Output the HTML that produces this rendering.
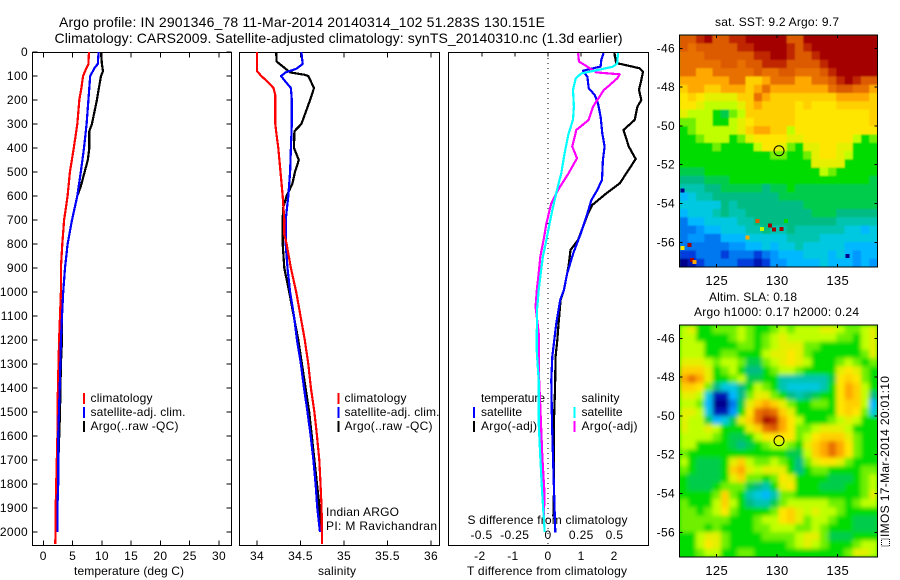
<!DOCTYPE html>
<html lang="en">
<head>
<meta charset="utf-8">
<title>Argo profile chart</title>
<style>
html,body{margin:0;padding:0;background:#fff;}
svg{display:block;font-family:"Liberation Sans",sans-serif;font-size:12px;fill:#000;}
text{fill:#000;}
</style>
</head>
<body>
<svg id="chart" width="900" height="580" viewBox="0 0 900 580" xmlns="http://www.w3.org/2000/svg">
<defs>
<filter id="soft-sst" x="0" y="0" width="100%" height="100%"><feGaussianBlur stdDeviation="0.9"/></filter>
<filter id="soft-sla" x="0" y="0" width="100%" height="100%"><feGaussianBlur stdDeviation="2.2"/></filter>
<clipPath id="clip-sst"><rect x="679.5" y="35" width="198" height="232"/></clipPath>
<clipPath id="clip-sla"><rect x="679.5" y="325" width="198" height="232"/></clipPath>
</defs>
<text x="59" y="27" font-size="14" textLength="486">Argo profile: IN 2901346_78 11-Mar-2014 20140314_102 51.283S 130.151E</text>
<text x="54.5" y="43" font-size="14" textLength="568">Climatology: CARS2009. Satellite-adjusted climatology: synTS_20140310.nc (1.3d earlier)</text>

<text x="74" y="575" textLength="110">temperature (deg C)</text>
<text x="318" y="575" textLength="38">salinity</text>
<text x="467" y="575" textLength="160">T difference from climatology</text>
<text x="467.5" y="524" textLength="160">S difference from climatology</text>

<g>
<text x="90.5" y="402" textLength="62">climatology</text>
<text x="90.5" y="416" textLength="95">satellite-adj. clim.</text>
<text x="90.5" y="430" textLength="88">Argo(..raw -QC)</text>
</g>
<g>
<text x="344.5" y="402" textLength="62">climatology</text>
<text x="344.5" y="416" textLength="95">satellite-adj. clim.</text>
<text x="344.5" y="430" textLength="88">Argo(..raw -QC)</text>
</g>
<g>
<text x="481" y="402" textLength="64">temperature</text>
<text x="481" y="416" textLength="41">satellite</text>
<text x="481" y="430" textLength="56">Argo(-adj)</text>
<text x="581.5" y="402" textLength="38">salinity</text>
<text x="581.5" y="416" textLength="41">satellite</text>
<text x="581.5" y="430" textLength="56">Argo(-adj)</text>
</g>
<text x="326" y="516" textLength="73">Indian ARGO</text>
<text x="326" y="530" textLength="111">PI: M Ravichandran</text>

<text x="715" y="26" textLength="124">sat. SST: 9.2  Argo: 9.7</text>
<text x="709" y="301" textLength="88">Altim. SLA: 0.18</text>
<text x="694" y="316" textLength="165">Argo h1000: 0.17 h2000: 0.24</text>
<text x="0" y="0" transform="translate(889,537) rotate(-90)" textLength="161">IMOS 17-Mar-2014 20:01:10</text>
<rect x="881.5" y="539" width="8" height="7" fill="none" stroke="#000" stroke-width="1" stroke-dasharray="1 1"/>
</svg>

<script>
/* ---------- axis ticks ---------- */
const depthTicks = [0,100,200,300,400,500,600,700,800,900,1000,1100,1200,1300,1400,1500,1600,1700,1800,1900,2000];
const tempTicks = [0,5,10,15,20,25,30];
const salTicks = [34,34.5,35,35.5,36];
const salTickLabels = ['34','34.5','35','35.5','36'];
const tDiffTicks = [-2,-1,0,1,2];
const tDiffTickLabels = ['-2','-1','0','1','2'];
const sDiffTicks = [-0.5,-0.25,0,0.25,0.5];
const sDiffTickLabels = ['-0.5','-0.25','0','0.25','0.5'];
const lonTicks = [125,130,135];
const latTicks = [-46,-48,-50,-52,-54,-56];

/* ---------- temperature profiles (deg C) ---------- */
const tempClimDepth = [0,50,70,100,150,200,300,400,500,600,700,800,900,1000,1100,1200,1400,1600,1700,1850,2050];
const tempClimValues = [7.8,7.7,7.3,6.8,6.5,6.15,5.8,5.2,4.55,4.15,3.55,3.25,3.0,3.0,2.85,2.7,2.5,2.4,2.3,2.15,2.05];
const tempSatDepth = [0,50,65,100,150,200,300,400,500,600,700,800,900,1000,1100,1200,1400,1600,1800,1900,2000];
const tempSatValues = [9.45,9.3,8.8,8.0,7.85,7.7,7.4,6.95,6.4,5.8,4.9,4.15,3.7,3.4,3.2,3.0,2.8,2.55,2.55,2.4,2.4];
const tempArgoDepth = [0,50,80,100,150,200,300,330,400,450,500,560,600,700,800,900,1000,1100,1200,1300,1500,1900];
const tempArgoValues = [9.85,10,10.2,9.85,9.5,9.15,8.3,7.85,7.85,7.6,7.05,6.4,5.8,4.9,4.15,3.7,3.4,3.2,3.2,3.0,2.85,2.3];

/* ---------- salinity profiles ---------- */
const salClimDepth = [0,80,100,120,150,180,200,300,350,400,450,500,600,700,760,800,900,1000,1100,1200,1300,1400,1500,1600,1700,1800,1900,2050];
const salClimValues = [34,34,34.05,34.11,34.19,34.21,34.21,34.21,34.226,34.245,34.257,34.27,34.295,34.314,34.314,34.34,34.39,34.45,34.5,34.55,34.59,34.62,34.66,34.69,34.716,34.73,34.743,34.747];
const salSatDepth = [0,50,70,85,100,120,150,200,300,400,500,600,700,800,900,1000,1100,1200,1300,1400,1500,1600,1700,1800,1900,2000];
const salSatValues = [34.51,34.525,34.45,34.33,34.276,34.32,34.39,34.4,34.4,34.39,34.38,34.36,34.33,34.33,34.35,34.38,34.425,34.46,34.505,34.54,34.58,34.617,34.648,34.674,34.693,34.724];
const salArgoDepth = [0,40,60,85,95,100,150,200,300,330,400,450,500,550,600,650,700,800,900,1000,1200,1500,1900,2000];
const salArgoValues = [34.22,34.226,34.295,34.38,34.55,34.59,34.655,34.61,34.51,34.43,34.425,34.48,34.437,34.406,34.34,34.3,34.295,34.295,34.314,34.37,34.475,34.6,34.72,34.735];

/* ---------- differences from climatology ---------- */
const tDiffSatDepth = [5,33,61,78,89,103,151,179,214,269,339,394,450,533,575,617,686,756,839,922,992,1033,1130,1269,1367,1547,1686,1825,2003];
const tDiffSatValues = [1.68,1.61,1.59,1.06,1.11,1.19,1.23,1.41,1.51,1.59,1.64,1.71,1.66,1.63,1.49,1.31,1.16,0.99,0.76,0.58,0.48,0.37,0.25,0.13,0.1,0.12,0.15,0.18,0.22];
const tDiffArgoDepth = [5,47,50,68,82,117,158,200,228,283,325,394,446,505,547,589,637,672,783,825,894,992,1033,1130,1200,1269,1408,1533,1825,1936];
const tDiffArgoValues = [2.01,2.06,2.2,2.77,2.87,2.82,2.75,2.82,2.7,2.62,2.28,2.44,2.65,2.37,2.17,1.76,1.34,1.21,0.91,0.68,0.62,0.48,0.38,0.32,0.28,0.23,0.21,0.18,0.18,0.16];
const sDiffSatDepth = [5,47,61,75,89,110,158,228,283,339,422,505,575,644,714,783,853,922,992,1075,1242,1367,1547,1686,1825,2000];
const sDiffSatValues = [0.526,0.52,0.49,0.376,0.25,0.208,0.188,0.195,0.188,0.155,0.125,0.1,0.068,0.038,0.012,-0.012,-0.038,-0.055,-0.07,-0.083,-0.085,-0.07,-0.07,-0.058,-0.045,-0.025];
const sDiffArgoDepth = [5,40,54,68,85,93,110,144,158,228,283,325,394,443,505,575,630,714,783,853,922,985,1061,1172,1353,1478,1686,1825,1964];
const sDiffArgoValues = [0.226,0.233,0.276,0.313,0.363,0.539,0.52,0.45,0.42,0.338,0.306,0.213,0.183,0.218,0.155,0.075,0.025,-0.012,-0.033,-0.058,-0.07,-0.083,-0.093,-0.07,-0.068,-0.058,-0.043,-0.028,-0.03];

/* ---------- map grids: colour-level values 0 (low) .. 20 (high), north to south ---------- */
const sstGrid = [
[18,18,19,20,18,18,19,19,20,20,20,20,20,18,18,20,20,20,20,20,20,20,20,20],
[18,17,18,18,18,18,18,19,19,20,20,20,20,19,18,19,20,20,20,20,20,20,20,20],
[17,17,17,18,18,18,18,18,18,19,19,20,20,19,18,18,19,20,20,20,20,20,20,20],
[17,17,17,17,17,18,18,17,18,18,19,19,19,18,18,18,18,19,20,20,20,20,20,20],
[17,17,16,16,17,17,17,17,17,18,17,17,18,18,17,17,17,18,19,20,20,20,20,20],
[16,16,16,16,16,16,17,17,15,15,16,17,17,17,16,16,17,17,18,19,20,19,18,18],
[15,16,16,15,15,16,16,16,15,16,17,16,16,16,16,16,16,16,17,18,18,17,17,16],
[14,15,14,13,13,13,13,15,15,17,16,15,15,15,15,15,15,15,15,16,16,16,16,15],
[14,14,13,12,12,12,12,13,15,16,15,15,15,15,14,15,14,14,14,15,15,15,15,15],
[13,12,12,12,10,9,11,12,15,15,15,15,15,15,14,14,14,14,14,14,14,14,14,15],
[11,11,12,12,10,10,12,13,14,15,15,15,15,15,14,14,14,14,14,14,14,14,14,15],
[10,11,12,12,12,12,12,13,15,16,16,15,15,12,14,14,14,14,14,14,14,14,14,14],
[10,10,11,12,12,12,10,11,13,14,14,14,14,13,13,14,14,14,14,14,14,12,10,11],
[10,10,10,10,11,10,10,10,10,12,14,14,13,11,10,13,13,14,14,13,13,10,10,10],
[10,10,10,10,10,10,10,10,10,10,10,11,11,10,10,11,13,14,14,13,12,10,10,10],
[10,10,10,10,10,10,10,10,10,10,10,10,10,10,10,10,13,13,13,13,10,10,10,10],
[9,9,9,10,10,10,10,10,10,10,10,10,10,10,10,10,10,12,11,10,10,10,10,10],
[8,8,8,9,9,9,10,10,10,10,10,10,10,10,10,10,10,10,10,10,10,10,10,9],
[7,7,7,8,8,9,9,9,9,9,8,9,9,10,9,9,9,9,9,9,9,9,9,9],
[5,6,7,7,8,8,8,8,8,8,8,8,9,9,9,9,9,9,9,9,9,9,9,9],
[6,6,6,6,6,8,7,8,8,8,8,8,8,8,8,9,9,9,9,9,9,9,9,9],
[5,6,6,6,7,8,7,7,8,8,8,8,8,8,8,8,9,9,9,8,8,8,8,8],
[3,5,5,6,6,6,6,7,7,8,8,8,8,8,8,8,8,8,8,7,7,7,7,7],
[3,3,4,5,5,6,6,6,7,7,8,7,7,8,7,7,7,7,7,7,6,6,5,6],
[3,4,4,3,3,5,5,5,6,6,6,6,6,7,7,7,7,6,6,6,6,6,6,6],
[3,3,3,3,3,3,4,4,5,5,6,5,6,6,7,6,6,6,6,6,5,5,5,5],
[2,2,3,3,3,2,3,3,3,2,3,4,5,5,5,6,6,6,5,6,5,4,5,5],
[0,1,2,3,3,3,3,2,2,1,2,4,4,5,5,5,5,6,5,5,5,4,5,4]
];
const sstOutlierLon = [129.41,129.74,130.34,128.36,127.53,122.74,122.19,122.96,123.15,122.16,130.73,128.75,135.8];
const sstOutlierLat = [-55.13,-55.34,-55.32,-54.91,-55.75,-56.13,-56.3,-56.92,-57.02,-53.33,-54.91,-55.32,-56.71];
const sstOutlierLevel = [20,20,20,18,16,20,14,20,16,0,10,12,0];
const slaGrid = [
[12,13,10,10,11,11,11,12,11,10,10,11,12,11,12,12,12,13,13,12,11,11,12,13],
[12,12,10,10,10,10,11,12,11,10,11,12,13,12,12,12,12,12,12,11,11,10,12,13],
[12,12,12,10,10,10,10,11,11,10,11,12,13,13,13,11,11,10,10,10,10,10,12,13],
[12,12,12,10,10,11,11,10,10,10,12,13,13,14,13,11,10,10,10,10,10,10,11,13],
[13,13,13,12,11,12,12,11,9,9,11,12,13,14,13,12,10,10,10,11,12,11,10,11],
[15,15,15,13,10,11,12,10,8,8,10,11,12,12,11,10,10,10,10,13,14,13,11,10],
[16,17,16,13,10,10,11,12,9,9,10,10,7,7,7,7,7,7,9,14,15,14,11,10],
[15,15,14,11,8,6,6,8,10,12,11,10,7,6,6,6,6,7,10,14,16,15,12,10],
[13,13,12,6,1,1,5,8,11,13,13,11,10,8,7,8,9,10,10,14,16,15,12,8],
[12,12,11,5,0,0,3,9,13,15,16,15,13,11,10,10,11,11,10,14,15,15,12,5],
[13,13,12,6,1,1,4,10,14,17,18,17,15,13,10,10,10,10,10,14,15,14,11,6],
[13,12,12,9,5,6,9,13,15,17,20,19,16,14,12,10,10,10,11,12,13,12,10,10],
[13,12,12,13,12,10,10,10,13,15,17,18,16,14,11,11,12,13,13,13,12,10,10,10],
[12,12,12,12,11,10,9,9,10,12,14,14,14,14,11,12,14,15,15,15,13,11,10,10],
[12,12,10,10,10,10,9,8,9,10,11,12,12,11,10,13,15,16,17,16,14,11,10,10],
[11,10,10,10,10,10,10,10,10,10,10,10,10,9,9,12,15,16,17,16,14,11,10,10],
[12,10,9,9,9,10,13,15,12,11,11,12,11,10,8,11,13,14,14,13,11,10,10,10],
[11,10,9,9,9,10,15,16,13,12,13,13,13,10,8,10,11,11,10,10,10,10,11,11],
[10,9,9,9,9,10,13,15,11,11,10,11,14,13,10,10,10,10,9,9,9,10,11,12],
[10,9,9,9,10,11,11,11,9,8,7,10,13,14,10,10,10,9,9,9,10,10,11,12],
[10,10,10,10,11,15,11,10,7,6,5,7,11,11,10,10,10,10,10,10,10,10,11,13],
[11,10,10,10,12,15,12,10,8,7,7,9,11,12,12,12,12,12,11,11,10,11,12,12],
[11,11,10,11,12,14,11,10,10,10,10,11,14,15,13,12,13,12,12,11,10,10,10,10],
[11,11,11,11,11,11,10,10,10,11,12,12,14,15,13,11,12,12,11,10,10,9,9,9],
[11,11,11,10,11,10,10,10,10,11,11,12,12,12,11,11,12,11,10,10,10,9,9,9],
[10,10,12,13,13,11,10,10,10,10,11,11,11,11,12,13,13,11,9,9,9,10,10,10],
[10,10,12,14,13,11,10,10,10,10,10,10,10,11,12,13,12,11,10,10,10,11,12,12],
[10,10,11,12,12,10,10,11,11,10,10,10,10,10,10,10,10,10,10,10,11,13,13,12]
];
const profileLon = [130.151];
const profileLat = [-51.283];

/* ---------- drawing ---------- */
const svg = document.getElementById('chart');
const NS = 'http://www.w3.org/2000/svg';
const colourStops = ['#00008c','#0014b4','#003cdc','#0078f0','#0098ff','#00b8ff','#00c8e0','#00c4b0','#00bc84','#00cc4c','#00dc00','#70f000','#c0ff00','#e4f000','#ffe600','#ffd000','#ffa800','#e87000','#dc5a00','#c02800','#a50000'];

function make(tag, attrs, parent) {
  const el = document.createElementNS(NS, tag);
  for (const k in attrs) el.setAttribute(k, attrs[k]);
  (parent || svg).appendChild(el);
  return el;
}
function scale(d0, d1, p0, p1) {
  return v => p0 + (v - d0) * (p1 - p0) / (d1 - d0);
}
const depthY = scale(0, 2000, 52, 532);
const tempX = scale(0, 30, 43.3, 219);
const salX = scale(34, 36, 257, 431);
const tDiffX = scale(-2, 2, 481.8, 614.2);
const sDiffX = scale(-0.5, 0.5, 481.5, 614.5);

function frame(name, x, y, w, h) {
  const g = make('g', {fill: 'none'});
  
  
  const r = make('rect', {x: x, y: y, width: w, height: h, stroke: '#000', 'stroke-width': 1, 'shape-rendering': 'crispEdges', fill: 'none'}, g);
  
  
  return g;
}
function tick(g, x1, y1, x2, y2) {
  const t = make('line', {x1: x1, y1: y1, x2: x2, y2: y2, stroke: '#000', 'stroke-width': 1, 'shape-rendering': 'crispEdges'}, g);
  
  
}
function label(str, x, y, anchor, size) {
  const t = make('text', {x: x, y: y, 'text-anchor': anchor || 'middle'});
  if (size) t.setAttribute('font-size', size);
  t.setAttribute('letter-spacing', '0.35');
  
  
  t.textContent = str;
}
function series(name, depths, values, xFn, colour, g) {
  const pts = depths.map((d, i) => xFn(values[i]).toFixed(1) + ',' + depthY(d).toFixed(1)).join(' ');
  const p = make('polyline', {points: pts, fill: 'none', stroke: colour, 'stroke-width': 2.2, 'stroke-linejoin': 'round', 'shape-rendering': 'crispEdges'}, g);
  
  
}
function legendBar(name, x, yc, colour) {
  const r = make('rect', {x: x, y: yc - 5, width: 2, height: 11, fill: colour, 'shape-rendering': 'crispEdges'});
  
  
}

/* temperature panel */
const p1 = frame('temperature-panel', 32.5, 52.5, 199, 493);
depthTicks.forEach(d => {
  tick(p1, 32.5, depthY(d), 37.5, depthY(d));
  tick(p1, 226.5, depthY(d), 231.5, depthY(d));
  label(String(d), 28, depthY(d) + 4, 'end');
});
tempTicks.forEach(v => {
  tick(p1, tempX(v), 52.5, tempX(v), 57.5);
  tick(p1, tempX(v), 540.5, tempX(v), 545.5);
  label(String(v), tempX(v), 560);
});
series('temperature-argo-line', tempArgoDepth, tempArgoValues, tempX, '#000', p1);
series('temperature-climatology-line', tempClimDepth, tempClimValues, tempX, '#f00', p1);
series('temperature-satellite-line', tempSatDepth, tempSatValues, tempX, '#00f', p1);

/* salinity panel */
const p2 = frame('salinity-panel', 239.5, 52.5, 200, 493);
salTicks.forEach((v, i) => {
  tick(p2, salX(v), 52.5, salX(v), 57.5);
  tick(p2, salX(v), 540.5, salX(v), 545.5);
  label(salTickLabels[i], salX(v), 560);
});
series('salinity-argo-line', salArgoDepth, salArgoValues, salX, '#000', p2);
series('salinity-satellite-line', salSatDepth, salSatValues, salX, '#00f', p2);
series('salinity-climatology-line', salClimDepth, salClimValues, salX, '#f00', p2);

/* difference panel */
const p3 = frame('difference-panel', 448.5, 52.5, 200, 493);
const zero = make('line', {x1: tDiffX(0), y1: 53, x2: tDiffX(0), y2: 545, stroke: '#000', 'stroke-width': 1, 'stroke-dasharray': '1 4', 'shape-rendering': 'crispEdges'}, p3);


tDiffTicks.forEach((v, i) => {
  tick(p3, tDiffX(v), 52.5, tDiffX(v), 56.5);
  label(tDiffTickLabels[i], tDiffX(v) - (v < 0 ? 2 : 0), 560);
});
sDiffTicks.forEach((v, i) => {
  label(sDiffTickLabels[i], sDiffX(v), 539);
});
series('t-diff-argo-line', tDiffArgoDepth, tDiffArgoValues, tDiffX, '#000', p3);
series('t-diff-satellite-line', tDiffSatDepth, tDiffSatValues, tDiffX, '#00f', p3);
series('s-diff-argo-line', sDiffArgoDepth, sDiffArgoValues, sDiffX, '#f0f', p3);
series('s-diff-satellite-line', sDiffSatDepth, sDiffSatValues, sDiffX, '#0ff', p3);

/* legends */
legendBar('legend-swatch-climatology', 83, 398, '#f00');
legendBar('legend-swatch-satellite-adj', 83, 412, '#00f');
legendBar('legend-swatch-argo', 83, 426, '#000');
legendBar('legend-swatch-climatology', 337.5, 398, '#f00');
legendBar('legend-swatch-satellite-adj', 337.5, 412, '#00f');
legendBar('legend-swatch-argo', 337.5, 426, '#000');
legendBar('legend-swatch-t-satellite', 473, 412, '#00f');
legendBar('legend-swatch-t-argo', 473, 426, '#000');
legendBar('legend-swatch-s-satellite', 573.5, 412, '#0ff');
legendBar('legend-swatch-s-argo', 573.5, 426, '#f0f');

/* maps */
const mapLeft = 679.5, mapW = 198, mapH = 232;
const lonX = scale(125, 135, 716.7, 837.7);
function drawMap(name, grid, top, latOrigin, clipId, filterId) {
  const latY = scale(-46, -56, latOrigin, latOrigin + 194);
  const outer = make('g', {'clip-path': 'url(#' + clipId + ')'});
  
  
  make('rect', {x: mapLeft, y: top, width: mapW, height: mapH, fill: colourStops[10]}, outer);
  const cells = make('g', {filter: 'url(#' + filterId + ')'}, outer);
  const cw = mapW / grid[0].length, ch = mapH / grid.length;
  grid.forEach((row, r) => row.forEach((v, c) => {
    const cell = make('rect', {x: (mapLeft + c * cw).toFixed(2), y: (top + r * ch).toFixed(2), width: (cw + 0.5).toFixed(2), height: (ch + 0.5).toFixed(2), fill: colourStops[v]}, cells);
    
    
  }));
  return {outer: outer, latY: latY};
}
function mapAxes(name, top, latY) {
  const g = frame(name, mapLeft, top, mapW, mapH);
  lonTicks.forEach(v => {
    tick(g, lonX(v), top, lonX(v), top + 3);
    tick(g, lonX(v), top + mapH - 3, lonX(v), top + mapH);
    label(String(v), lonX(v), top + mapH + 18, 'middle', 13);
  });
  latTicks.forEach(v => {
    tick(g, mapLeft, latY(v), mapLeft + 3, latY(v));
    tick(g, mapLeft + mapW - 3, latY(v), mapLeft + mapW, latY(v));
    label(String(v), 675, latY(v) + 4, 'end');
  });
  const c = make('circle', {cx: lonX(profileLon[0]), cy: latY(profileLat[0]), r: 5, fill: 'none', stroke: '#000', 'stroke-width': 1});
  
  
}
const sstMap = drawMap('sst-map', sstGrid, 35, 48.3, 'clip-sst', 'soft-sst');
sstOutlierLon.forEach((lon, i) => {
  const o = make('rect', {x: lonX(lon) - 2, y: sstMap.latY(sstOutlierLat[i]) - 2, width: 4, height: 4, fill: colourStops[sstOutlierLevel[i]], 'shape-rendering': 'crispEdges'}, sstMap.outer);
  
  
});
mapAxes('sst-map-axes', 35, sstMap.latY);
const slaMap = drawMap('sla-map', slaGrid, 325, 338.3, 'clip-sla', 'soft-sla');
mapAxes('sla-map-axes', 325, slaMap.latY);
</script>
</body>
</html>
